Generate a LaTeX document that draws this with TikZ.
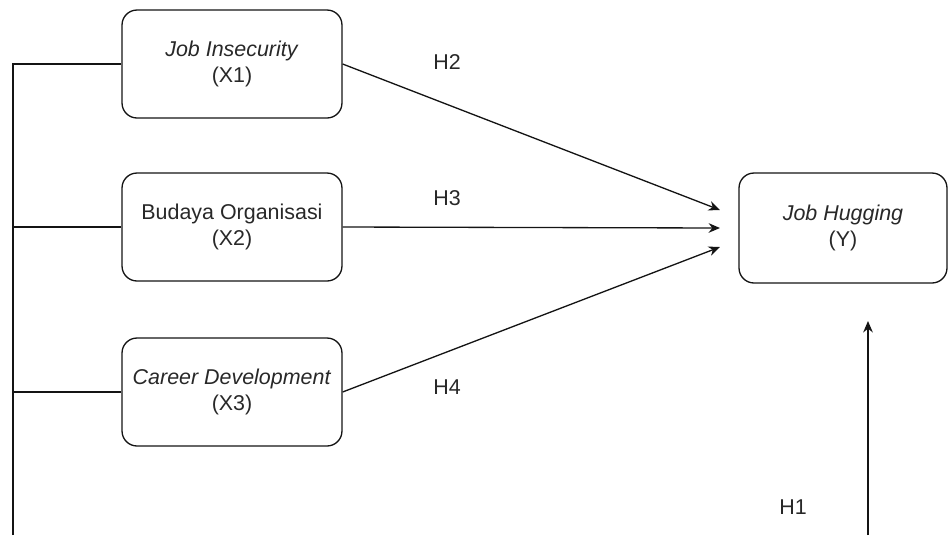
\documentclass[tikz,border=0pt]{standalone}
\usepackage{fontspec}
\setmainfont{Liberation Sans}
\usepackage{tikz}
\usetikzlibrary{arrows.meta,positioning,calc}
\definecolor{lineK}{RGB}{20,20,20}
\definecolor{textK}{RGB}{40,40,40}

\begin{document}
\begin{tikzpicture}[
  x=0.02cm,y=-0.02cm,
  >={Stealth[length=6.5pt,width=5.5pt]},
  var/.style={draw=lineK,line width=0.75pt,rounded corners=0.3cm,minimum width=4.4cm,minimum height=2.16cm,inner sep=1pt,align=center,font=\fontsize{12.2}{15.3}\selectfont,text=textK},
  hyp/.style={font=\fontsize{12.2}{14}\selectfont,text=textK},
  link/.style={draw=lineK,line width=0.75pt}
]
  \useasboundingbox (0,0) rectangle (950,535);

  % Independent variables
  \node[var] (x1) at (232,64) {\textit{Job Insecurity}\\(X1)};
  \node[var] (x2) at (232,227) {Budaya Organisasi\\(X2)};
  \node[var] (x3) at (232,392) {\textit{Career Development}\\(X3)};

  % Dependent variable
  \node[var,minimum width=4.16cm,minimum height=2.2cm] (y) at (843,228) {\textit{Job Hugging}\\(Y)};

  % Arrow ends in front of Y
  \coordinate (t1) at (720,210);
  \coordinate (t2) at (720,228);
  \coordinate (t3) at (720,247);
  \draw[link,->] (x1.east) -- (t1);
  \draw[link,->] (x2.east) -- (t2);
  \draw[link,->] (x3.east) -- (t3);

  % Left bus line and H1 arrow
  \coordinate (busTop) at (13,64);
  \coordinate (busBot) at (13,535);
  \draw[link] (busBot) -- (busTop) -- (x1.west);
  \draw[link] (busTop |- x2.west) -- (x2.west);
  \draw[link] (busTop |- x3.west) -- (x3.west);
  \coordinate (h1Start) at (868,535);
  \coordinate (h1End) at (868,321);
  \draw[link,->] (h1Start) -- (h1End);

  % Hypothesis labels
  \node[hyp] (h2) at (447,62) {H2};
  \node[hyp] (h3) at (447,198) {H3};
  \node[hyp] (h4) at (447,387) {H4};
  \node[hyp] (h1) at (793,507) {H1};
\end{tikzpicture}
\end{document}
